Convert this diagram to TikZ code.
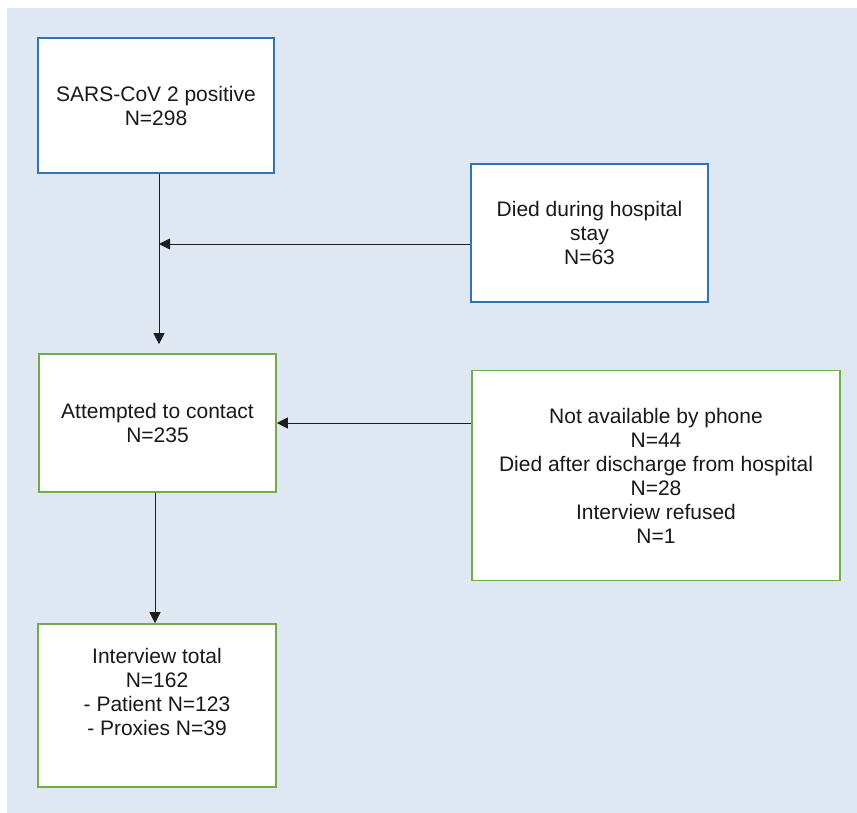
\documentclass[tikz,border=0pt]{standalone}
\usepackage{fontspec}
\setmainfont{Liberation Sans}
\usetikzlibrary{arrows.meta}
\definecolor{bgc}{RGB}{223,232,242}
\definecolor{bluec}{RGB}{46,117,182}
\definecolor{greenc}{RGB}{112,173,71}
\definecolor{linec}{RGB}{30,30,30}
\definecolor{txtc}{RGB}{25,25,25}
\begin{document}
\begin{tikzpicture}[x=1pt,y=1pt,
  box/.style={draw, fill=white, line width=1.6pt, inner sep=0pt, align=center,
    text=txtc, font=\fontsize{21}{24}\selectfont},
  bluebox/.style={box, draw=bluec},
  greenbox/.style={box, draw=greenc},
  txt/.style={inner sep=0pt, align=center, text=txtc, font=\fontsize{21}{24}\selectfont},
  arr/.style={draw=linec, line width=0.9pt, -{Triangle[length=11pt,width=11pt]}}
]
\useasboundingbox (0,0) rectangle (857,812);
\fill[bgc] (7,-3) rectangle (860,804);

\node[bluebox, minimum width=236, minimum height=135] (b1) at (156,706.5)
  {SARS-CoV 2 positive\\N=298};
\node[bluebox, minimum width=237, minimum height=138] (b2) at (589.5,579)
  {Died during hospital\\stay\\N=63};
\node[greenbox, minimum width=237, minimum height=138] (b3) at (157.5,389)
  {Attempted to contact\\N=235};
\node[greenbox, minimum width=368, minimum height=210] (b4) at (656,336.5)
  {Not available by phone\\N=44\\Died after discharge from hospital\\N=28\\Interview refused\\N=1};
\node[greenbox, minimum width=238, minimum height=163] (b5) at (157,106.5) {};
\node[txt] (t5) at (157,120) {Interview total\\N=162\\- Patient N=123\\- Proxies N=39};

\coordinate (j1) at (159,568);
\coordinate (j2) at (155,0);

\draw[arr, shorten >=9pt] (b1.south -| j1) -- (b3.north -| j1);
\draw[arr] (b2.west |- j1) -- (j1);
\draw[arr] (b4.west |- b3.east) -- (b3.east);
\draw[arr] (b3.south -| j2) -- (b5.north -| j2);
\end{tikzpicture}
\end{document}
